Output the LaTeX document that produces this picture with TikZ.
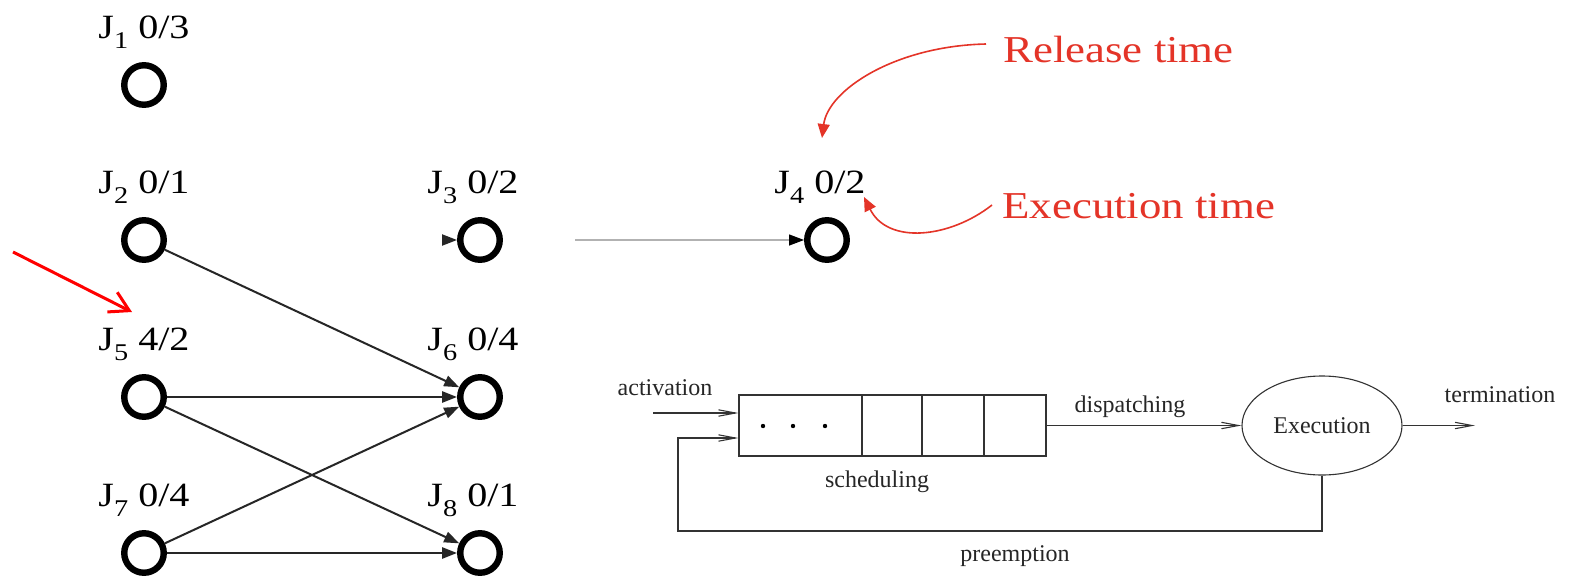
\documentclass[tikz,border=0pt]{standalone}
\usepackage{fontspec}
\setmainfont{Liberation Serif}
\newfontfamily\labfont[FakeStretch=1.18]{Liberation Serif}
\usetikzlibrary{arrows.meta,shapes.geometric,calc}
\newcommand\jsub[1]{\raisebox{-5pt}{\fontsize{12}{12}\selectfont #1}}

\begin{document}
\begin{tikzpicture}[x=0.5pt,y=-0.5pt,
  job/.style={circle,draw=black,line width=3.2pt,minimum size=19.75pt,inner sep=0pt},
  joblabel/.style={font={\labfont\fontsize{17}{20}\selectfont},anchor=base,inner sep=0pt},
  dep/.style={draw=black!85,line width=1pt,-{Triangle[length=7.5pt,width=5.5pt]}},
  thickdep/.style={dep,line width=1.3pt},
  note/.style={font={\labfont\fontsize{19}{22}\selectfont},text=notered,anchor=base west,inner sep=0pt},
  notearrow/.style={draw=notered,line width=0.8pt,-{Triangle[length=7pt,width=6pt]}},
  flow/.style={draw=black!80,line width=0.55pt},
  flowarrow/.style={flow,-{Straight Barb[length=8.5pt,width=3.2pt,line width=0.55pt]}},
  txt/.style={font=\fontsize{12}{14}\selectfont,text=black!85,inner sep=0pt}
]
\definecolor{notered}{RGB}{228,52,40}
\fill[white] (0,0) rectangle (1571,579);
\useasboundingbox (0,0) rectangle (1571,579);

% job nodes
\node[job] (J1) at (144,85) {};
\node[job] (J2) at (144,240) {};
\node[job] (J3) at (480,240) {};
\node[job] (J4) at (827,240) {};
\node[job] (J5) at (144,397) {};
\node[job] (J6) at (480,397) {};
\node[job] (J7) at (144,553) {};
\node[job] (J8) at (480,553) {};

% job labels: release time / execution time
\node[joblabel] (L1) at ($(J1)+(0,-47)$) {J\jsub{1} 0/3};
\node[joblabel] (L2) at ($(J2)+(0,-47)$) {J\jsub{2} 0/1};
\node[joblabel] (L3) at ($(J3)+(-7,-47)$) {J\jsub{3} 0/2};
\node[joblabel] (L4) at ($(J4)+(-7,-47)$) {J\jsub{4} 0/2};
\node[joblabel] (L5) at ($(J5)+(0,-47)$) {J\jsub{5} 4/2};
\node[joblabel] (L6) at ($(J6)+(-7,-47)$) {J\jsub{6} 0/4};
\node[joblabel] (L7) at ($(J7)+(0,-47)$) {J\jsub{7} 0/4};
\node[joblabel] (L8) at ($(J8)+(-7,-47)$) {J\jsub{8} 0/1};

% precedence edges
\draw[dep] (J2) -- (J6);
\draw[thickdep] (J5) -- (J6);
\draw[dep] (J5) -- (J8);
\draw[dep] (J7) -- (J6);
\draw[thickdep] (J7) -- (J8);
\coordinate (j3in) at (443,240);
\draw[dep] (j3in) -- (J3);
\coordinate (j4in) at (575,240);
\draw[draw=black!30,line width=0.6pt,-{Triangle[length=7.5pt,width=5.5pt,color=black]}] (j4in) -- (J4);

% annotations
\node[note] (rel) at (1003,62) {Release time};
\node[note] (exe) at (1002,218) {Execution time};
\coordinate (relS) at (986,44);
\coordinate (relE) at (822,138);
\draw[notearrow] (relS) .. controls (895,46) and (828,90) .. (relE);
\coordinate (exeS) at (992,205);
\coordinate (exeE) at (864,197);
\draw[notearrow] (exeS) .. controls (950,238) and (888,245) .. (exeE);

\coordinate (hiS) at (13,252);
\coordinate (hiE) at (132,312);
\draw[draw=red,line width=1.5pt,-{Straight Barb[length=9.5pt,width=11pt,line width=1.5pt]}] (hiS) -- (hiE);

% ready queue
\node[flow,draw,rectangle,minimum width=153.5pt,minimum height=30.5pt,inner sep=0pt] (Q) at (892.5,425.5) {};
\draw[flow] (862,395) -- (862,456);
\draw[flow] (922,395) -- (922,456);
\draw[flow] (984,395) -- (984,456);
\foreach \x in {763,793,825} \fill[black] (\x,426) circle (1.1pt);

\node[flow,draw,ellipse,minimum width=80pt,minimum height=49.5pt,inner sep=0pt,txt] (E) at (1322,425.5) {Execution};

\coordinate (act) at (653,413);
\draw[flowarrow] (act) -- (act -| Q.west);
\coordinate (pb) at (678,531);
\coordinate (pin) at (678,438);
\draw[flowarrow] (E.south) |- (pb) -- (pin) -- (pin -| Q.west);
\draw[flowarrow] (Q.east) -- (E.west);
\coordinate (term) at (1475,425.5);
\draw[flowarrow] (E.east) -- (term);

\node[txt,anchor=base] (tact) at (665,395) {activation};
\node[txt,anchor=base] (tdis) at (1130,412) {dispatching};
\node[txt,anchor=base] (tterm) at (1500,402) {termination};
\node[txt,anchor=base] (tsch) at (877,487) {scheduling};
\node[txt,anchor=base] (tpre) at (1015,561) {preemption};
\end{tikzpicture}
\end{document}
